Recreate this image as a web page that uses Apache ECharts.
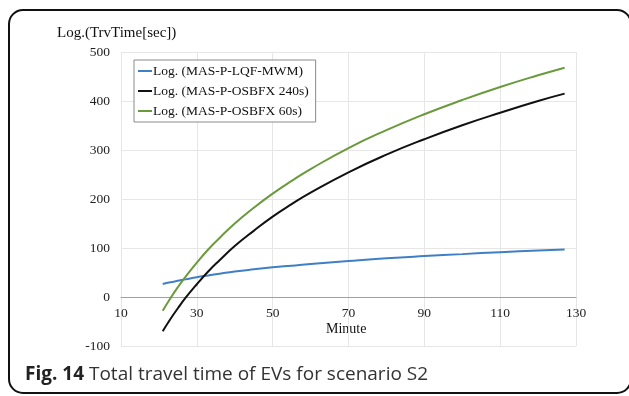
<!DOCTYPE html>
<html>
<head>
<meta charset="utf-8">
<script src="https://cdn.jsdelivr.net/npm/echarts@6/dist/echarts.min.js"></script>
<style>html,body{margin:0;padding:0;background:#fff;}#c{width:629px;height:396px;}</style>
</head>
<body>
<div id="c"></div>
<script>
const minutes = [21, 23, 25, 27, 30, 33, 36, 40, 45, 50, 55, 60, 70, 80, 90, 100, 110, 120, 127];
const lqfMwm   = [26.5, 30, 33, 36, 40.5, 44, 47.5, 52, 56.5, 60.5, 64, 67.5, 73.5, 79, 83.5, 87.5, 91.5, 95, 97];
const osbfx240 = [-70, -45.5, -23, -2, 26, 52, 75, 104, 135, 164, 189.5, 213, 254.5, 290.5, 322, 350.5, 376, 400, 415];
const osbfx60  = [-28, -3, 20, 41, 70, 97, 120.5, 150, 182, 211, 237, 261, 304, 340.5, 373, 402, 428.5, 452.5, 468];
const seriesNames = ['Log. (MAS-P-LQF-MWM)', 'Log. (MAS-P-OSBFX 240s)', 'Log. (MAS-P-OSBFX 60s)'];
const xTicks = {min: 10, max: 130, interval: 20};
const yTicks = {min: -100, max: 500, interval: 100};

const pairs = arr => minutes.map((m, i) => [m, arr[i]]);
const serif = '"Liberation Serif", "Times New Roman", serif';
const gridTop = 52, gridBottom = 50, H = 396;
const plotH = H - gridTop - gridBottom;
const zeroOffset = plotH * (0 - yTicks.min) / (yTicks.max - yTicks.min);

const chart = echarts.init(document.getElementById('c'), null, {renderer: 'canvas'});
chart.setOption({
  animation: false,
  backgroundColor: '#fff',
  grid: {left: 121, right: 53, top: gridTop, bottom: gridBottom},
  legend: {
    orient: 'vertical', left: 134, top: 60,
    padding: [4, 7, 4, 4], itemGap: 6,
    borderColor: '#8a8a8a', borderWidth: 1, backgroundColor: '#fff',
    itemWidth: 14, itemHeight: 2, icon: 'rect',
    textStyle: {fontFamily: serif, fontSize: 13.5, color: '#111', padding: [0, 0, 0, -4]},
    data: seriesNames
  },
  xAxis: {
    type: 'value', min: xTicks.min, max: xTicks.max, interval: xTicks.interval,
    offset: -zeroOffset,
    axisLine: {onZero: false, lineStyle: {color: '#a0a0a0', width: 1}},
    axisTick: {show: false},
    axisLabel: {fontFamily: serif, fontSize: 13.5, color: '#222', margin: 9},
    splitLine: {show: true, lineStyle: {color: '#e6e6e6', width: 1}}
  },
  yAxis: {
    type: 'value', min: yTicks.min, max: yTicks.max, interval: yTicks.interval,
    axisLine: {show: false}, axisTick: {show: false},
    axisLabel: {fontFamily: serif, fontSize: 13.5, color: '#222', margin: 11},
    splitLine: {show: true, lineStyle: {color: '#e6e6e6', width: 1}}
  },
  graphic: [
    {type: 'rect', z: 100, silent: true, shape: {x: 9, y: 10, width: 622, height: 383, r: 14},
     style: {fill: 'none', stroke: '#111', lineWidth: 2}},
    {type: 'text', left: 57, top: 26, style: {text: 'Log.(TrvTime[sec])', font: '15px ' + serif, fill: '#111'}},
    {type: 'text', left: 326, top: 322, style: {text: 'Minute', font: '14px ' + serif, fill: '#111'}},
    {type: 'text', x: 25, y: 375, style: {
      text: '{b|Fig. 14} Total travel time of EVs for scenario S2',
      font: '19px "Open Sans", sans-serif', fill: '#333', verticalAlign: 'middle',
      rich: {b: {fontFamily: '"Open Sans", sans-serif', fontSize: 19, fontWeight: 'bold', fill: '#222'}}
    }}
  ],
  series: [
    {name: seriesNames[0], type: 'line', data: pairs(lqfMwm), smooth: true, showSymbol: false,
     lineStyle: {color: '#3f7fc6', width: 2}, itemStyle: {color: '#3f7fc6'}},
    {name: seriesNames[1], type: 'line', data: pairs(osbfx240), smooth: true, showSymbol: false,
     lineStyle: {color: '#111111', width: 2}, itemStyle: {color: '#111111'}},
    {name: seriesNames[2], type: 'line', data: pairs(osbfx60), smooth: true, showSymbol: false,
     lineStyle: {color: '#6a9a3c', width: 2}, itemStyle: {color: '#6a9a3c'}}
  ]
});
</script>
</body>
</html>
